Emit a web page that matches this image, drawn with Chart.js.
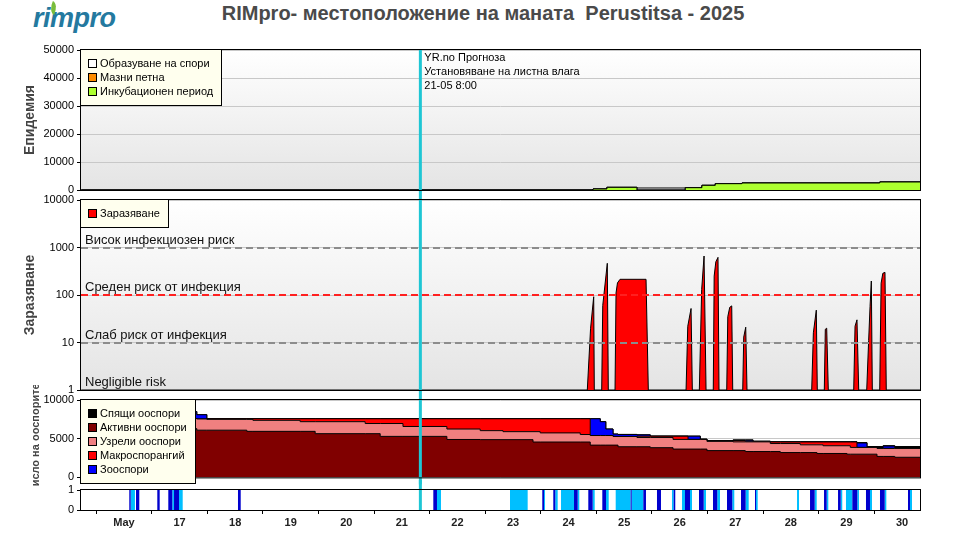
<!DOCTYPE html>
<html>
<head>
<meta charset="utf-8">
<title>RIMpro - Perustitsa 2025</title>
<script src="https://cdn.jsdelivr.net/npm/chart.js"></script>
<style>
  body { margin: 0; background: #fff; }
  #wrap { position: relative; width: 960px; height: 535px; overflow: hidden; font-family: Arial, "Liberation Sans", sans-serif; }
  #wrap canvas { position: absolute; left: 0; }
  #title { position: absolute; top: 2px; left: 0; width: 966px; text-align: center; font-size: 20px; font-weight: bold; color: #4a4a4a; white-space: pre; }
  #logo { position: absolute; left: 33px; top: 3px; font-size: 27px; font-weight: bold; font-style: italic; color: #24799f; letter-spacing: -0.5px; }
  #leaf { position: absolute; left: 50px; top: 2px; width: 7px; height: 12px; background: #79bd3c; border-radius: 0 100% 0 100%; transform: rotate(25deg); }
</style>
</head>
<body>
<div id="wrap">
  <div id="logo">rimpro</div>
  <div id="leaf"></div>
  <div id="title">RIMpro- местоположение на маната  Perustitsa - 2025</div>
  <canvas id="epi" width="960" height="205" style="top:0px"></canvas>
  <canvas id="inf" width="960" height="215" style="top:185px"></canvas>
  <canvas id="oos" width="960" height="102" style="top:385px"></canvas>
  <canvas id="wet" width="960" height="55" style="top:480px"></canvas>
</div>
<script>
const FONT = 'Arial, "Liberation Sans", sans-serif'

//* time axis, days of May (fractional)
const xMin = 15.226
const xMax = 30.324
const dayTicks = [16, 17, 18, 19, 20, 21, 22, 23, 24, 25, 26, 27, 28, 29, 30]
const dayLabels = ["May", "17", "18", "19", "20", "21", "22", "23", "24", "25", "26", "27", "28", "29", "30"]
const noonTicks = [15.5, 16.5, 17.5, 18.5, 19.5, 20.5, 21.5, 22.5, 23.5, 24.5, 25.5, 26.5, 27.5, 28.5, 29.5]

const forecastDay = 21.333
const forecastNote = ["YR.no Прогноза", "Установяване на листна влага", "21-05 8:00"]

//* Епидемия
const epiTimes = [15.23, 24.44, 24.69, 25.23, 26.10, 26.40, 26.64, 27.12, 29.60, 30.33]
const incubation = [0, 360, 950, 0, 830, 1670, 2260, 2500, 2860, 2860]
const oilySpots = [0, 0, 0, 0, 0, 0, 0, 0, 0, 0]
const sporulation = [0, 0, 0, 710, 0, 0, 0, 0, 0, 0]

//* Заразяване
const infDays = [15.23,
  24.337, 24.396, 24.452, 24.463,
  24.596, 24.615, 24.697, 24.715,
  24.836, 24.854, 24.88, 24.926, 25.394, 25.435,
  26.114, 26.145, 26.204, 26.227,
  26.353, 26.395, 26.438, 26.474,
  26.604, 26.62, 26.65, 26.689, 26.707,
  26.846, 26.865, 26.9, 26.936, 26.954,
  27.134, 27.152, 27.188, 27.211,
  28.375, 28.405, 28.458, 28.476,
  28.602, 28.62, 28.645, 28.674,
  29.131, 29.155, 29.19, 29.221,
  29.365, 29.4, 29.425, 29.448, 29.466,
  29.599, 29.624, 29.655, 29.694, 29.717,
  30.33]
const infValues = [1,
  1, 20, 92, 1,
  1, 60, 465, 1,
  1, 110, 180, 214, 214, 1,
  1, 22, 52, 1,
  1, 130, 662, 1,
  1, 250, 500, 620, 1,
  1, 35, 55, 59, 1,
  1, 13, 21, 1,
  1, 16, 48, 1,
  1, 19, 20, 1,
  1, 22, 30, 1,
  1, 11, 57, 197, 1,
  1, 177, 286, 300, 1,
  1]
const infTicks = [1, 10, 100, 1000, 10000]
const riskLevels = [1000, 100, 10, 1]
const riskLabels = ["Висок инфекциозен риск", "Среден риск от инфекция", "Слаб риск от инфекция", "Negligible risk"]

//* Число на ооспорите
const oosTimes = [15.23, 17.31, 17.49, 18.21, 18.32, 19.17, 19.44, 20.34, 20.61, 21.02,
  21.81, 22.41, 22.82, 23.36, 23.49, 24.21, 24.39, 24.57, 24.67, 24.80,
  24.89, 25.23, 25.47, 25.88, 26.15, 26.37, 26.49, 26.96, 27.18, 27.32,
  27.63, 27.81, 28.17, 28.47, 28.58, 29.01, 29.07, 29.19, 29.37, 29.55,
  29.66, 29.87, 30.33]
const activeOos = [6300, 6100, 6100, 5950, 5950, 5950, 5650, 5650, 5300, 5300,
  4900, 4880, 4880, 4570, 4570, 4570, 4170, 4170, 4170, 4170,
  3960, 3960, 3840, 3660, 3660, 3660, 3460, 3460, 3340, 3340,
  3340, 3210, 3210, 3090, 3090, 3000, 3000, 3000, 3000, 2710,
  2710, 2600, 2600]
const matureOos = [1300, 1450, 1400, 1550, 1425, 1250, 1550, 1310, 1660, 1280,
  1350, 1160, 1030, 1340, 1180, 970, 1240, 1240, 1240, 1120,
  1330, 1200, 1320, 1250, 1250, 1250, 1200, 1130, 1250, 1250,
  1035, 1165, 1000, 1120, 1000, 1090, 875, 875, 875, 1040,
  1040, 1150, 1150]
const macroSporangia = [0, 0, 80, 80, 205, 380, 380, 620, 620, 1000,
  1330, 1540, 1670, 1670, 1830, 2040, 0, 0, 0, 0,
  0, 170, 170, 420, 0, 0, 0, 170, 0, 0,
  205, 205, 370, 370, 490, 490, 705, 0, 0, 0,
  0, 0, 0]
const zoospores = [900, 550, 0, 0, 0, 0, 0, 0, 0, 0,
  0, 0, 0, 0, 0, 0, 2170, 1790, 840, 310,
  260, 170, 0, 0, 420, 0, 0, 30, 200, 0,
  0, 0, 0, 0, 0, 0, 0, 575, 0, 0,
  300, 0, 0]
const dormantOos = [0, 0, 0, 0, 0, 0, 0, 0, 0, 0,
  0, 0, 0, 0, 0, 0, 0, 0, 0, 0,
  0, 0, 0, 0, 0, 50, 100, 60, 60, 110,
  20, 20, 20, 20, 20, 20, 20, 50, 115, 240,
  50, 240, 240]

//* листна влага (start, end)
const wetDark = [[16.095, 16.120], [16.216, 16.275], [16.599, 16.642], [16.797, 16.869], [16.900, 16.990],
  [18.051, 18.100], [21.566, 21.632], [23.527, 23.558], [23.725, 23.761], [24.098, 24.164],
  [24.355, 24.434], [24.607, 24.674], [25.118, 25.136], [25.345, 25.393], [25.591, 25.663],
  [25.892, 25.920], [26.095, 26.185], [26.347, 26.432], [26.599, 26.676], [26.851, 26.946],
  [27.103, 27.187], [27.355, 27.373], [28.345, 28.429], [28.597, 28.645], [28.849, 28.897],
  [29.106, 29.196], [29.352, 29.424], [29.604, 29.689], [30.108, 30.144]]
const wetLight = [[16.120, 16.197], [16.869, 16.900], [16.990, 17.056], [21.632, 21.704], [22.946, 23.264],
  [23.558, 23.576], [23.761, 23.804], [23.864, 24.098], [24.164, 24.193], [24.434, 24.470],
  [24.674, 24.722], [24.848, 25.118], [25.136, 25.345], [25.861, 25.892], [26.041, 26.095],
  [26.185, 26.221], [26.432, 26.473], [26.676, 26.725], [26.946, 26.982], [27.187, 27.241],
  [27.373, 27.403], [28.111, 28.147], [28.429, 28.465], [28.645, 28.674], [28.897, 28.925],
  [28.992, 29.106], [29.196, 29.226], [29.424, 29.460], [29.689, 29.718], [30.144, 30.180]]


Chart.defaults.animation = false
Chart.defaults.responsive = false
Chart.defaults.events = []
Chart.defaults.font.family = FONT
Chart.defaults.plugins.legend.display = false
Chart.defaults.plugins.tooltip.enabled = false

//* backgrounds, frame, forecast line, risk lines and boxed legends
const panelDecor = {
  id: "panelDecor",
  beforeDraw(chart, args, o) {
    const { ctx, chartArea: a } = chart
    ctx.save()
    if (o.shade) {
      const g = ctx.createLinearGradient(0, a.top, 0, a.bottom)
      g.addColorStop(0, "#ffffff")
      g.addColorStop(1, "#e4e4e4")
      ctx.fillStyle = g
    } else {
      ctx.fillStyle = "#ffffff"
    }
    ctx.fillRect(a.left, a.top, a.width, a.height)
    ctx.restore()
  },
  afterDatasetsDraw(chart, args, o) {
    const { ctx, chartArea: a } = chart
    const xs = chart.scales.x
    const ys = chart.scales.y
    ctx.save()

    if (o.risk) {
      o.risk.forEach(r => {
        const py = Math.round(ys.getPixelForValue(r.value))
        if (r.color) {
          ctx.setLineDash([7, 4])
          ctx.lineWidth = 2
          ctx.strokeStyle = r.color
          ctx.beginPath()
          ctx.moveTo(a.left, py)
          ctx.lineTo(a.right, py)
          ctx.stroke()
          ctx.setLineDash([])
        }
        ctx.fillStyle = "#111"
        ctx.font = "13px " + FONT
        ctx.textAlign = "left"
        ctx.textBaseline = "alphabetic"
        ctx.fillText(r.label, a.left + 4, py - 4)
      })
    }

    const cx = xs.getPixelForValue(forecastDay)
    ctx.strokeStyle = "#1ec6d4"
    ctx.lineWidth = 3
    ctx.beginPath()
    ctx.moveTo(cx, a.top - (o.up || 0))
    ctx.lineTo(cx, a.bottom + (o.down || 0))
    ctx.stroke()

    if (o.note) {
      ctx.fillStyle = "#000"
      ctx.font = "11px " + FONT
      ctx.textAlign = "left"
      ctx.textBaseline = "middle"
      o.note.forEach((t, i) => ctx.fillText(t, cx + 4, a.top + 8 + i * 14))
    }

    ctx.strokeStyle = "#000"
    ctx.lineWidth = 1
    ctx.strokeRect(a.left - 0.5, a.top - 0.5, a.width + 1, a.height + 1)

    if (o.legend) {
      const items = o.legend.map(i => chart.data.datasets[i])
      ctx.font = "11px " + FONT
      const tw = Math.max(...items.map(d => ctx.measureText(d.label).width))
      const bx = a.left - 0.5
      const by = a.top - 0.5
      const bw = Math.round(19 + tw + 9)
      const bh = 14 * items.length + 14
      ctx.fillStyle = "#ffffee"
      ctx.fillRect(bx, by, bw, bh)
      ctx.strokeRect(bx, by, bw, bh)
      items.forEach((d, i) => {
        const ry = Math.round(a.top + 14 + 14 * i)
        const sx = Math.round(a.left + 7)
        ctx.fillStyle = d.backgroundColor
        ctx.fillRect(sx, ry - 5, 9, 9)
        ctx.strokeRect(sx + 0.5, ry - 4.5, 8, 8)
        ctx.fillStyle = "#000"
        ctx.textAlign = "left"
        ctx.textBaseline = "middle"
        ctx.fillText(d.label, a.left + 19, ry)
      })
    }
    ctx.restore()
  }
}
Chart.register(panelDecor)

function area(label, color, xs, ys, fill, extra) {
  return Object.assign({
    label: label,
    backgroundColor: color,
    borderColor: "#000",
    borderWidth: 1,
    pointRadius: 0,
    tension: 0,
    fill: fill,
    data: xs.map((x, i) => ({ x: x, y: ys[i] })),
  }, extra || {})
}

function wetData(intervals) {
  const pts = [{ x: xMin, y: 0 }]
  intervals.forEach(([s, e]) => { pts.push({ x: s, y: 1 }, { x: e, y: 0 }) })
  pts.push({ x: xMax, y: 0 })
  return pts
}

function hiddenX() {
  return { type: "linear", min: xMin, max: xMax, display: false }
}

function yAxis(opts, title, titleSize, titlePad) {
  const s = {
    afterFit: sc => { sc.width = 81 },
    border: { display: false },
    grid: { color: "#c8c8c8", tickColor: "#000", tickLength: 4 },
    ticks: Object.assign({ color: "#000", font: { family: FONT, size: 11 }, padding: 3, callback: v => String(v) }, opts.ticks || {}),
    title: title
      ? { display: true, text: title, color: "#444", font: { family: FONT, size: titleSize, weight: "bold" }, padding: { top: titlePad, bottom: 0 } }
      : { display: false },
  }
  delete opts.ticks
  return Object.assign(s, opts)
}


//* Епидемия
new Chart(document.querySelector("#epi"), {
  type: "line",
  data: {
    datasets: [
      area("Инкубационен период", "#adff2f", epiTimes, incubation, "origin", { stepped: true }),
      area("Мазни петна", "#ff8c00", epiTimes, oilySpots, "-1", { stepped: true }),
      area("Образуване на спори", "#ffffff", epiTimes, sporulation, "-1", { stepped: true }),
    ],
  },
  options: {
    layout: { padding: { top: 50, bottom: 15, left: 0, right: 40 } },
    scales: {
      x: hiddenX(),
      y: yAxis({ stacked: true, min: 0, max: 50000, ticks: { stepSize: 10000 } }, "Епидемия", 14, 22),
    },
    plugins: { panelDecor: { shade: true, down: 10, note: forecastNote, legend: [2, 1, 0] } },
  },
})

//* Заразяване
new Chart(document.querySelector("#inf"), {
  type: "line",
  data: {
    datasets: [area("Заразяване", "#ff0000", infDays, infValues, "start")],
  },
  options: {
    layout: { padding: { top: 15, bottom: 10, left: 0, right: 40 } },
    scales: {
      x: hiddenX(),
      y: yAxis({
        type: "logarithmic", min: 1, max: 10000,
        afterBuildTicks: sc => { sc.ticks = infTicks.map(v => ({ value: v })) },
      }, "Заразяване", 14, 22),
    },
    plugins: {
      panelDecor: {
        shade: true, down: 10, legend: [0],
        risk: riskLevels.map((v, i) => ({ value: v, label: riskLabels[i], color: v === 100 ? "#ff2020" : (v === 1 ? null : "#8c8c8c") })),
      },
    },
  },
})

//* Число на ооспорите
new Chart(document.querySelector("#oos"), {
  type: "line",
  data: {
    datasets: [
      area("Активни ооспори", "#800000", oosTimes, activeOos, "origin", { stepped: true }),
      area("Узрели ооспори", "#f08080", oosTimes, matureOos, "-1", { stepped: true }),
      area("Макроспорангий", "#ff0000", oosTimes, macroSporangia, "-1", { stepped: true }),
      area("Зооспори", "#0000ff", oosTimes, zoospores, "-1", { stepped: true }),
      area("Спящи ооспори", "#000000", oosTimes, dormantOos, "-1", { stepped: true }),
    ],
  },
  options: {
    layout: { padding: { top: 15, bottom: 7, left: 0, right: 40 } },
    scales: {
      x: hiddenX(),
      y: yAxis({ stacked: true, min: 0, max: 10000, ticks: { stepSize: 5000 } }, "Число на ооспорите", 11, 29),
    },
    plugins: { panelDecor: { down: 7, legend: [4, 0, 1, 2, 3] } },
  },
})

//* листна влага
new Chart(document.querySelector("#wet"), {
  type: "line",
  data: {
    datasets: [
      area("Дъжд", "#0000cd", [], [], "origin", { data: wetData(wetDark), stepped: true, borderWidth: 0, borderColor: "rgba(0,0,0,0)" }),
      area("Листна влага", "#00bfff", [], [], "origin", { data: wetData(wetLight), stepped: true, borderWidth: 0, borderColor: "rgba(0,0,0,0)" }),
    ],
  },
  options: {
    layout: { padding: { top: 10, bottom: 0, left: 0, right: 40 } },
    scales: {
      x: {
        type: "linear", min: xMin, max: xMax,
        afterBuildTicks: sc => { sc.ticks = dayTicks.concat(noonTicks).sort((a, b) => a - b).map(v => ({ value: v })) },
        afterFit: sc => { sc.height = 25 },
        border: { display: false },
        grid: {
          drawOnChartArea: false, tickLength: 4,
          color: c => (c.tick && dayTicks.includes(c.tick.value)) ? "rgba(0,0,0,0)" : "#000",
          tickColor: c => (c.tick && dayTicks.includes(c.tick.value)) ? "rgba(0,0,0,0)" : "#000",
        },
        ticks: {
          autoSkip: false, maxRotation: 0, padding: 2, color: "#222",
          font: { family: FONT, size: 11, weight: "bold" },
          callback: v => { const i = dayTicks.indexOf(v); return i < 0 ? "" : dayLabels[i] },
        },
      },
      y: yAxis({ min: 0, max: 1, ticks: { stepSize: 1 }, grid: { drawOnChartArea: false, tickColor: "#000", tickLength: 4 } }, null),
    },
    plugins: { panelDecor: { up: 10 } },
  },
})
</script>
</body>
</html>
